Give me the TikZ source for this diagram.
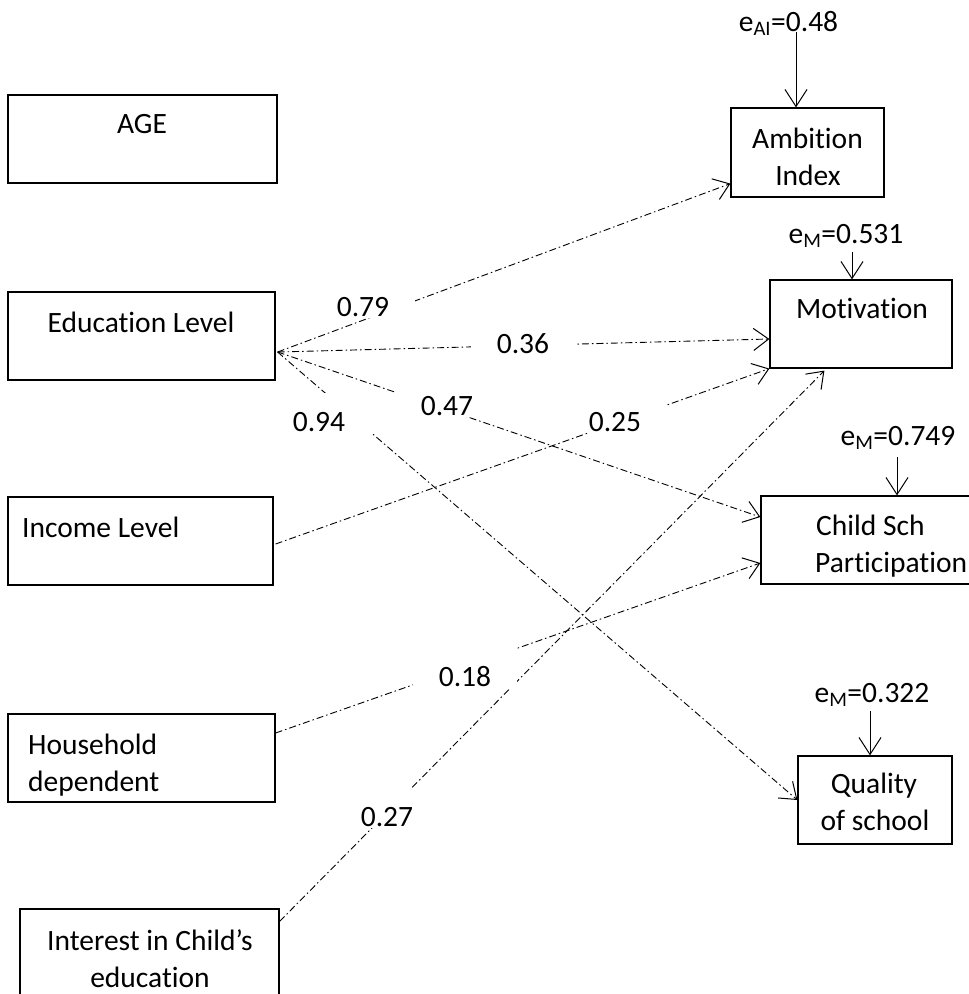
\documentclass[tikz,border=0pt]{standalone}
\usepackage{fontspec}
\setmainfont{Carlito}[Ligatures=NoCommon]
\usetikzlibrary{arrows.meta,calc}
\newcommand\fsz{\fontsize{29.5}{37}\selectfont}
\begin{document}
\begin{tikzpicture}[x=1pt,y=-1pt,
  box/.style={draw, line width=1.2pt, inner sep=0pt, minimum height=88pt},
  txt/.style={font=\fsz, inner sep=0pt, anchor=base},
  pth/.style={line width=0.9pt, dash pattern=on 7pt off 3pt on 1.5pt off 3pt, -{Straight Barb[length=15pt,width=22pt,line width=1pt]}},
  err/.style={line width=1pt, -{Straight Barb[length=17pt,width=22pt]}},
  coef/.style={fill=white, font=\fsz, inner sep=0pt, anchor=base, minimum width=104pt, text height=38pt, text depth=2pt}]
\useasboundingbox (0,0) rectangle (969,994);
\clip (0,0) rectangle (969,994);
% boxes
\node[box, minimum width=269pt] (age) at (142.5,139) {};
\node[box, minimum width=267pt] (edu) at (141.5,336) {};
\node[box, minimum width=265pt] (inc) at (140.5,541) {};
\node[box, minimum width=267pt] (hh) at (141.5,758) {};
\node[box, minimum width=259pt, minimum height=100pt] (int) at (149.5,959) {};
\node[box, minimum width=153pt, minimum height=89pt] (amb) at (807.5,152.5) {};
\node[box, minimum width=182pt] (mot) at (861,324) {};
\node[box, minimum width=229pt] (csp) at (875.5,540) {};
\node[box, minimum width=154pt] (qos) at (875,800) {};
% texts
\node[txt] (tage) at (142,133) {AGE};
\node[txt] (tedu) at (141,332) {Education Level};
\node[txt, anchor=base west] (tinc) at (22,537) {Income Level};
\node[txt, anchor=base west] (thh1) at (28,754) {Household};
\node[txt, anchor=base west] (thh2) at (28,791) {dependent};
\node[txt] (tint1) at (150,950) {Interest in Child’s};
\node[txt] (tint2) at (150,987) {education};
\node[txt] (tamb1) at (807.5,148) {Ambition};
\node[txt] (tamb2) at (808,185) {Index};
\node[txt] (tmot) at (862,318) {Motivation};
\node[txt, anchor=base west] (tcsp1) at (816,535) {Child Sch};
\node[txt, anchor=base west] (tcsp2) at (815,572) {Participation};
\node[txt] (tq1) at (874,793) {Quality};
\node[txt] (tq2) at (875,830) {of school};
% error terms
\node[txt] (eai) at (788.5,31) {e\textsubscript{AI}=0.48};
\node[txt] (em1) at (846,243) {e\textsubscript{M}=0.531};
\node[txt] (em2) at (898,445) {e\textsubscript{M}=0.749};
\node[txt] (em3) at (872,702) {e\textsubscript{M}=0.322};
\coordinate (ea) at (796,32);
\coordinate (eb) at (852,252);
\coordinate (ec) at (897,457);
\coordinate (ed) at (870,711);
\draw[err] (ea) -- (ea |- amb.north);
\draw[err] (eb) -- (eb |- mot.north);
\draw[err] (ec) -- (ec |- csp.north);
\draw[err] (ed) -- (ed |- qos.north);
% paths
\coordinate (E) at ([xshift=2pt,yshift=-16pt]edu.east);
\draw[pth] (E) -- ([yshift=14pt]amb.south west);
\draw[pth] (E) -- ([yshift=-15pt]mot.west);
\draw[pth] (E) -- ([yshift=23pt]csp.west);
\draw[pth] (E) -- (qos.west);
\draw[pth] ([xshift=2pt,yshift=-3pt]inc.east) -- (mot.south west);
\draw[pth] ([yshift=25pt]hh.east) -- ([yshift=-23pt]csp.west);
\draw[pth] ([yshift=-13pt]int.north east) -- ([xshift=55pt,yshift=-2pt]mot.south west);
% coefficients
\node[coef] (c79) at (363,316) {0.79};
\node[coef] (c36) at (523,353) {0.36};
\node[coef] (c47) at (447,415) {0.47};
\node[coef] (c94) at (319,431) {0.94};
\node[coef] (c25) at (615,431) {0.25};
\node[coef] (c18) at (465,686) {0.18};
\node[coef] (c27) at (387,826) {0.27};
\end{tikzpicture}
\end{document}
